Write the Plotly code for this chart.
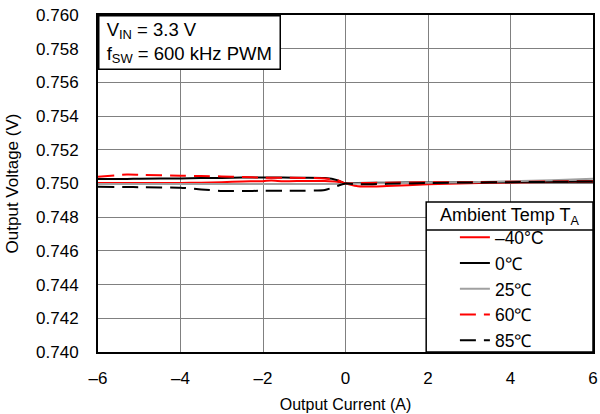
import plotly.graph_objects as go

# Output current (A)
current = [-6, -5.3, -5, -4, -3.5, -3, -2.5, -2, -1.8, -1.5, -1, -0.5, -0.2, 0, 0.3, 1, 2, 3, 4, 5, 6]

# Output voltage (V) per ambient temperature
v_m40 = [0.75003, 0.75003, 0.75003, 0.75003, 0.75005, 0.75008, 0.75012, 0.75014, 0.75018, 0.75013, 0.75015, 0.75015, 0.75010, 0.75000, 0.74983, 0.74985, 0.74995, 0.75002, 0.75006, 0.75009, 0.75010]
v_0 = [0.75026, 0.75027, 0.75028, 0.75030, 0.75032, 0.75033, 0.75035, 0.75035, 0.75035, 0.75035, 0.75034, 0.75032, 0.75020, 0.75000, 0.75003, 0.75005, 0.75006, 0.75007, 0.75009, 0.75011, 0.75012]
v_25 = [0.74997, 0.74997, 0.74997, 0.74997, 0.74997, 0.74997, 0.74997, 0.74997, 0.74997, 0.74997, 0.74997, 0.74997, 0.74997, 0.74998, 0.75000, 0.75002, 0.75004, 0.75008, 0.75013, 0.75020, 0.75028]
v_60 = [0.75040, 0.75053, 0.75052, 0.75046, 0.75044, 0.75042, 0.75038, 0.75035, 0.75034, 0.75034, 0.75033, 0.75030, 0.75020, 0.75000, 0.75002, 0.75005, 0.75007, 0.75008, 0.75010, 0.75012, 0.75014]
v_85 = [0.74980, 0.74979, 0.74978, 0.74975, 0.74965, 0.74956, 0.74955, 0.74957, 0.74957, 0.74957, 0.74957, 0.74962, 0.74985, 0.75000, 0.74995, 0.74998, 0.75003, 0.75006, 0.75008, 0.75010, 0.75012]

series_names = ["\u201340\u00b0C", "0\u2103", "25\u2103", "60\u2103", "85\u2103"]
series_values = [v_m40, v_0, v_25, v_60, v_85]
series_colors = ["#ff0000", "#000000", "#a0a0a0", "#ff0000", "#000000"]
series_dash = ["solid", "solid", "solid", "16px,8px", "16px,8px"]

x_ticks = [-6, -4, -2, 0, 2, 4, 6]
x_ticktext = ["\u20136", "\u20134", "\u20132", "0", "2", "4", "6"]
y_ticks = [0.740, 0.742, 0.744, 0.746, 0.748, 0.750, 0.752, 0.754, 0.756, 0.758, 0.760]
y_ticktext = ["%.3f" % v for v in y_ticks]

FONT = "Arial, 'Liberation Sans', sans-serif"

fig = go.Figure()
for i, (name, vals, col, dash) in enumerate(zip(series_names, series_values, series_colors, series_dash)):
    fig.add_trace(go.Scatter(
        x=current, y=vals, mode="lines", name=name,
        line=dict(color=col, width=2, dash=dash, shape="spline", smoothing=0.6),
        legendgroup="g%d" % i,
    ))

fig.update_layout(
    width=600, height=414,
    margin=dict(l=98, r=7, t=15, b=62, autoexpand=False),
    paper_bgcolor="white", plot_bgcolor="white",
    font=dict(family=FONT, size=16, color="black"),
    showlegend=True,
    legend=dict(
        x=0.721, xanchor="left", y=-0.019, yanchor="bottom",
        bgcolor="rgba(0,0,0,0)", borderwidth=0,
        font=dict(size=17.5, family=FONT),
        tracegroupgap=0,
    ),
    xaxis=dict(
        range=[-6, 6], tickmode="array", tickvals=x_ticks, ticktext=x_ticktext,
        showgrid=True, gridcolor="#808080", gridwidth=1,
        showline=True, linecolor="black", linewidth=2, mirror=True,
        ticks="", zeroline=False, ticklabelstandoff=10, automargin=False,
        title=dict(text="Output Current (A)", font=dict(size=16), standoff=11),
        tickfont=dict(size=17),
    ),
    yaxis=dict(
        range=[0.740, 0.760], tickmode="array", tickvals=y_ticks, ticktext=y_ticktext,
        showgrid=True, gridcolor="#808080", gridwidth=1,
        showline=True, linecolor="black", linewidth=2, mirror=True,
        ticks="", zeroline=False, ticklabelstandoff=14, automargin=False,
        title=dict(text="Output Voltage (V)", font=dict(size=17), standoff=13),
        tickfont=dict(size=17),
    ),
)

# legend frame (white box with title row)
fig.add_shape(type="rect", xref="paper", yref="paper", x0=0.663, x1=1.0, y0=0.0, y1=0.445,
              fillcolor="white", line=dict(color="black", width=1.5), layer="above")
fig.add_shape(type="line", xref="paper", yref="paper", x0=0.663, x1=1.0, y0=0.362, y1=0.362,
              line=dict(color="black", width=1.5), layer="above")
fig.add_annotation(
    xref="paper", yref="paper", x=0.831, y=0.4035, xanchor="center", yanchor="middle",
    text="Ambient Temp T<sub>A</sub>", showarrow=False,
    font=dict(size=18, family=FONT, color="black"),
)

fig.add_annotation(
    xref="paper", yref="paper", x=0, y=1, xanchor="left", yanchor="top",
    text="\u00a0V<sub>IN</sub> = 3.3 V<br>\u00a0f<sub>SW</sub> = 600 kHz PWM\u00a0",
    align="left", showarrow=False,
    font=dict(size=18.5, family=FONT, color="black"),
    bgcolor="white", bordercolor="black", borderwidth=1.5, borderpad=2,
)

fig.write_html(
    "out.html",
    config={"displayModeBar": False},
    post_script="document.documentElement.style.overflow='hidden';"
                "document.body.style.margin='0';document.body.style.overflow='hidden';",
)
